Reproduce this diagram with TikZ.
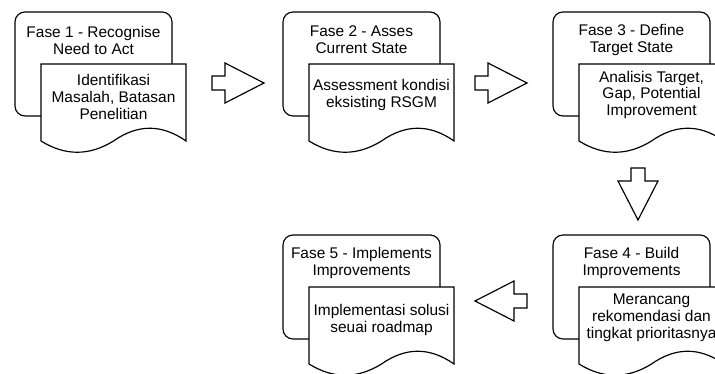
\documentclass[tikz,border=0pt]{standalone}
\usepackage{fontspec}
\setmainfont{Liberation Sans}
\usepackage{tikz}
\usetikzlibrary{shapes,arrows}

\begin{document}
\begin{tikzpicture}[x=0.03cm, y=-0.03cm, line width=1pt,
        font=\fontsize{13.2}{14.5}\selectfont,
        phase/.style={draw, rounded corners=0.3cm, minimum width=4.71cm, minimum height=3.12cm},
        doc/.style={draw, fill=white},
        blockarrow/.style={draw, fill=white}]

        \useasboundingbox (0,0) rectangle (715,374);

        % fase boxes
        \node[phase] (fase1) at (93.5,64) {};
        \node[phase] (fase2) at (361.5,64) {};
        \node[phase] (fase3) at (631.5,64) {};
        \node[phase] (fase4) at (631.5,287) {};
        \node[phase] (fase5) at (361.5,287) {};

        \node[align=center] (judul1) at (93.5,40) {Fase 1 - Recognise\\Need to Act};
        \node[align=center] (judul2) at (361.5,40) {Fase 2 - Asses\\Current State};
        \node[align=center] (judul3) at (631.5,40) {Fase 3 - Define\\Target State};
        \node[align=center] (judul4) at (631.5,263) {Fase 4 - Build\\Improvements};
        \node[align=center] (judul5) at (361.5,263) {Fase 5 - Implements\\Improvements};

        % document shapes
        \foreach \dx/\dy in {41/64, 309/64, 579/64, 579/287, 309/287}
        \draw[doc, shift={(\dx,\dy)}] (0,0) -- (145,0) -- (145,77) .. controls (120.8,60) and (96.7,60) .. (72.5,77) .. controls (48.3,92) and (24.2,92) .. (0,77) -- cycle;

        \node[align=center] (isi1) at (113.5,97) {Identifikasi\\Masalah, Batasan\\Penelitian};
        \node[align=center] (isi2) at (381.5,95) {Assessment kondisi\\eksisting RSGM};
        \node[align=center] (isi3) at (651.5,95) {Analisis Target,\\Gap, Potential\\Improvement};
        \node[align=center] (isi4) at (651.5,318) {Merancang\\rekomendasi dan\\tingkat prioritasnya};
        \node[align=center] (isi5) at (381.5,320) {Implementasi solusi\\seuai roadmap};

        % block arrows
        \foreach \px/\py/\ang in {212/83/0, 475/83/0, 638/168/-90, 527/301/180}
        \draw[blockarrow, shift={(\px,\py)}, rotate=\ang] (0,7) -- (13,7) -- (13,20) -- (52,0) -- (13,-20) -- (13,-7) -- (0,-7) -- cycle;

\end{tikzpicture}
\end{document}
